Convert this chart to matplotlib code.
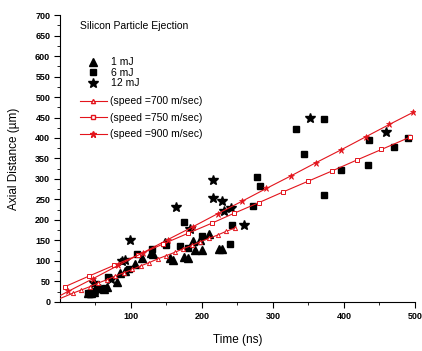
import matplotlib
matplotlib.use("Agg")
import matplotlib.pyplot as plt
from matplotlib.lines import Line2D

# ── Data ─────────────────────────────────────────────────────────────────────
t_1mj = [39, 44, 48, 56, 62, 66, 80, 85, 92, 106, 116, 128, 131, 148, 155,
         160, 175, 180, 188, 190, 197, 200, 210, 224, 229]
d_1mj = [22, 22, 25, 34, 32, 36, 49, 70, 75, 93, 108, 120, 118, 147, 108,
         102, 110, 108, 149, 127, 152, 127, 166, 130, 130]

t_6mj = [40, 42, 52, 63, 68, 98, 108, 130, 150, 169, 175, 180, 200, 239, 242,
         272, 277, 282, 332, 344, 372, 372, 396, 434, 435, 470, 491]
d_6mj = [22, 20, 32, 35, 60, 80, 118, 130, 140, 137, 196, 132, 160, 142, 188,
         235, 306, 282, 421, 360, 446, 262, 323, 333, 394, 377, 401]

t_12mj = [48, 50, 72, 87, 92, 99, 164, 183, 215, 215, 228, 231, 241, 259, 352, 459]
d_12mj = [47, 29, 55, 100, 103, 152, 232, 179, 297, 253, 247, 223, 228, 188, 448, 414]

# fitted speed lines (vertices = marker positions on the chart)
t_700 = [0, 18, 30, 42, 54, 66, 78, 90, 102, 114, 126, 138, 150, 162, 174,
         186, 198, 210, 222, 234, 246]
d_700 = [8, 21, 29, 37, 46, 54, 63, 71, 79, 88, 96, 105, 113, 121, 130,
         138, 147, 155, 163, 172, 180]

t_750 = [7, 41, 76, 110, 145, 180, 214, 245, 280, 314, 349, 384, 418, 453, 493]
d_750 = [37, 63, 89, 114, 141, 167, 192, 216, 242, 268, 294, 320, 346, 372, 402]

t_900 = [0, 12, 47, 82, 117, 152, 187, 222, 257, 291, 326, 361, 396, 431, 464, 498]
d_900 = [15, 26, 57, 89, 120, 152, 183, 215, 246, 277, 308, 340, 371, 403, 433, 463]

RED = "#e3141c"
plt.rcParams["font.family"] = ["Liberation Sans", "DejaVu Sans"]

fig = plt.figure(figsize=(4.22, 3.51), dpi=100)
ax = fig.add_axes([0.142, 0.140, 0.841, 0.817])

# ── Scatter data ─────────────────────────────────────────────────────────────
ax.plot(t_1mj, d_1mj, "^", color="black", ms=5.5, ls="none", zorder=3)
ax.plot(t_6mj, d_6mj, "s", color="black", ms=4.2, ls="none", zorder=3)
ax.plot(t_12mj, d_12mj, "*", color="black", ms=7, ls="none", zorder=3)

# ── Speed lines ──────────────────────────────────────────────────────────────
lkw = dict(color=RED, lw=0.8, zorder=4)
ax.plot(t_700, d_700, marker="^", ms=3, mfc="white", mec=RED, mew=0.7,
        markevery=slice(1, None), **lkw)
ax.plot(t_750, d_750, marker="s", ms=2.6, mfc="white", mec=RED, mew=0.7, **lkw)
ax.plot(t_900, d_900, marker="*", ms=4.5, mfc=RED, mec=RED, mew=0.5,
        markevery=slice(1, None), **lkw)

# ── Axes styling ─────────────────────────────────────────────────────────────
ax.set_xlim(0, 500)
ax.set_ylim(0, 700)
ax.spines["top"].set_visible(False)
ax.spines["right"].set_visible(False)
ax.spines["left"].set_linewidth(0.8)
ax.spines["bottom"].set_linewidth(0.8)

ax.set_xticks([100, 200, 300, 400, 500])
ax.set_xticks([50, 150, 250, 350, 450], minor=True)
ax.set_yticks(range(0, 701, 50))
ax.set_yticks(range(25, 700, 50), minor=True)
ax.tick_params(which="major", length=4, width=0.8, direction="out",
               labelsize=6.5, pad=3)
ax.tick_params(which="minor", length=2, width=0.6, direction="out")
for lab in ax.get_xticklabels() + ax.get_yticklabels():
    lab.set_fontweight("bold")

ax.set_xlabel("Time (ns)", fontsize=8.5, labelpad=10)
ax.set_ylabel("Axial Distance (\u00b5m)", fontsize=8.5, labelpad=11)

# ── Legends ──────────────────────────────────────────────────────────────────
h_pts = [
    Line2D([], [], marker="^", color="black", ls="none", ms=5.5),
    Line2D([], [], marker="s", color="black", ls="none", ms=4.2),
    Line2D([], [], marker="*", color="black", ls="none", ms=7),
]
leg1 = ax.legend(h_pts, ["1 mJ", "6 mJ", "12 mJ"], title="Silicon Particle Ejection",
                 loc="upper left", bbox_to_anchor=(0.035, 1.005), frameon=False,
                 fontsize=7.5, title_fontsize=7.5, handlelength=2.6,
                 handletextpad=0.45, labelspacing=0.05, alignment="left",
                 borderpad=0.2)
leg1._legend_box.sep = 19
ax.add_artist(leg1)

h_lines = [
    Line2D([], [], color=RED, lw=0.8, marker="^", ms=3, mfc="white", mec=RED),
    Line2D([], [], color=RED, lw=0.8, marker="s", ms=2.6, mfc="white", mec=RED),
    Line2D([], [], color=RED, lw=0.8, marker="*", ms=4.5, mfc=RED, mec=RED),
]
ax.legend(h_lines, ["(speed =700 m/sec)", "(speed =750 m/sec)", "(speed =900 m/sec)"],
          loc="upper left", bbox_to_anchor=(0.035, 0.742), frameon=False,
          fontsize=7.5, handlelength=2.6, handletextpad=0.3, labelspacing=0.62,
          borderpad=0.2)

fig.savefig("out.png", dpi=100)
